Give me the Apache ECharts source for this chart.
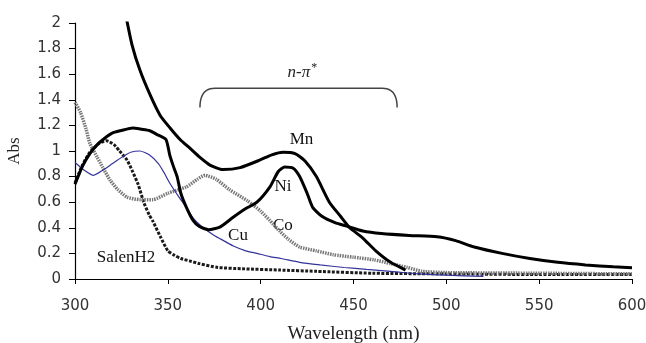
<!DOCTYPE html>
<html lang="en">
  <head>
    <meta charset="UTF-8" />
    <title>UV-vis spectra</title>
    <script src="https://cdn.jsdelivr.net/npm/echarts@6/dist/echarts.min.js"></script>
  </head>
  <body style="margin: 0; background: #fff">
    <div id="main" style="width: 646px; height: 343px"></div>
    <script type="text/javascript">
      // x axis ticks (nm) and y axis ticks (Abs)
      const xTicks = [300, 350, 400, 450, 500, 550, 600];
      const yTicks = [0, 0.2, 0.4, 0.6, 0.8, 1, 1.2, 1.4, 1.6, 1.8, 2];

      // spectra, [wavelength, abs]
      const mnData = [
        [327.5, 2.05], [330.7, 1.83], [335, 1.63], [340.4, 1.44], [345.8, 1.28],
        [351.2, 1.18], [356.6, 1.09], [362, 1.02], [367.3, 0.95], [372.7, 0.89],
        [379.7, 0.855], [388.9, 0.87], [399.7, 0.93], [406, 0.97], [412, 0.99],
        [418.5, 0.98], [424, 0.92], [430, 0.8], [437, 0.6], [443, 0.49],
        [448, 0.4], [455, 0.32], [462, 0.22], [470, 0.13], [478, 0.07]
      ];
      const niData = [
        [300, 0.74], [304, 0.88], [308, 0.98], [312, 1.05], [316, 1.1], [320, 1.14],
        [325, 1.16], [331, 1.18], [336, 1.17], [340, 1.16], [344, 1.13], [349, 1.09],
        [351, 0.97], [353, 0.88], [355, 0.8], [357, 0.67], [360, 0.56], [363.5, 0.46],
        [367, 0.41], [372, 0.385], [378, 0.405], [385, 0.48], [392, 0.55], [398, 0.6],
        [405, 0.72], [409.5, 0.84], [413, 0.875], [417.5, 0.865], [421, 0.8], [425, 0.67],
        [428, 0.56], [433, 0.49], [440, 0.44], [447, 0.41], [455, 0.375], [465, 0.355],
        [480, 0.34], [495, 0.33], [505, 0.3], [515, 0.25], [530, 0.2], [545, 0.16],
        [560, 0.13], [575, 0.11], [590, 0.095], [600, 0.088]
      ];
      const cuData = [
        [300, 0.91], [305, 0.85], [310, 0.81], [315, 0.85], [320, 0.9], [325, 0.95],
        [330, 0.99], [335, 1.0], [340, 0.97], [345, 0.9], [348, 0.83], [351, 0.75],
        [356, 0.64], [360, 0.56], [364, 0.47], [370, 0.39], [375, 0.34], [380, 0.3],
        [385, 0.26], [392, 0.22], [398, 0.2], [405, 0.175], [411, 0.16], [421, 0.13],
        [432, 0.11], [445, 0.09], [457, 0.075], [470, 0.06], [485, 0.04], [500, 0.03],
        [520, 0.02]
      ];
      const coData = [
        [300, 1.38], [303, 1.3], [306, 1.17], [308, 1.06], [312, 0.95], [315, 0.87],
        [319, 0.77], [323, 0.7], [328, 0.64], [335, 0.62], [342, 0.62], [350, 0.67],
        [360, 0.72], [366, 0.78], [370, 0.81], [376, 0.78], [383, 0.7], [393, 0.61],
        [400, 0.53], [406.7, 0.43], [410.5, 0.37], [415, 0.31], [421, 0.25], [430, 0.22],
        [439, 0.19], [450, 0.17], [461, 0.15], [470, 0.12], [479, 0.09], [487, 0.06],
        [500, 0.05], [550, 0.045], [600, 0.04]
      ];
      const salenData = [
        [300, 0.75], [304, 0.89], [308, 0.99], [313, 1.06], [317, 1.08], [321, 1.05],
        [324, 1.0], [328, 0.93], [331, 0.84], [334, 0.74], [337, 0.6], [340, 0.5],
        [342, 0.45], [346, 0.33], [350, 0.22], [353, 0.19], [357, 0.16], [362, 0.14],
        [367, 0.12], [377, 0.09], [390, 0.08], [410, 0.07], [430, 0.06], [460, 0.045],
        [500, 0.04], [550, 0.035], [600, 0.035]
      ];

      // curve labels in data coordinates
      const curveLabels = [
        { text: "Mn", x: 422, y: 1.086 },
        { text: "Ni", x: 412, y: 0.72 },
        { text: "Cu", x: 387.8, y: 0.34 },
        { text: "Co", x: 412, y: 0.42 },
        { text: "SalenH2", x: 327.5, y: 0.17 }
      ];
      // bracket over the n-pi* band
      const bracket = { x0: 367.3, x1: 473.5, yEnd: 1.34, yTop: 1.49, r: 8 };
      const bracketLabel = { x: 422.5, y: 1.61 };

      const serif = '"Liberation Serif", "DejaVu Serif", serif';
      const sans = '"DejaVu Sans", sans-serif';

      function lineSeries(name, data, color, width, type, z) {
        return {
          name: name,
          type: "line",
          data: data,
          showSymbol: false,
          smooth: 0.2,
          z: z,
          lineStyle: { color: color, width: width, type: type, cap: "butt" },
        };
      }

      let option = {
        animation: false,
        backgroundColor: "#fff",
        grid: { left: 75, right: 14, top: 23, bottom: 64, outerBoundsMode: "none", containLabel: false },
        xAxis: {
          type: "value",
          min: xTicks[0],
          max: xTicks[xTicks.length - 1],
          interval: 50,
          name: "Wavelength (nm)",
          nameLocation: "middle",
          nameGap: 46,
          nameTextStyle: { fontFamily: serif, fontSize: 19, color: "#222" },
          axisLine: { lineStyle: { color: "#000", width: 1.2 } },
          axisTick: { length: 5, lineStyle: { color: "#000" } },
          axisLabel: { margin: 20, fontFamily: sans, fontSize: 15, color: "#333" },
          splitLine: { show: false },
        },
        yAxis: {
          type: "value",
          min: yTicks[0],
          max: yTicks[yTicks.length - 1],
          interval: 0.2,
          name: "Abs",
          nameLocation: "middle",
          nameRotate: 90,
          nameGap: 52,
          nameTextStyle: { fontFamily: serif, fontSize: 17, color: "#222" },
          axisLine: { show: true, lineStyle: { color: "#000", width: 1.2 } },
          axisTick: { show: true, length: 6, lineStyle: { color: "#000" } },
          axisLabel: { margin: 14, fontFamily: sans, fontSize: 15, color: "#333" },
          splitLine: { show: false },
        },
        series: [
          lineSeries("SalenH2", salenData, "#1a1a1a", 3, [3, 1.5], 2),
          lineSeries("Co", coData, "#777", 3.5, [1.5, 1], 3),
          lineSeries("Cu", cuData, "#33339a", 1.2, "solid", 4),
          lineSeries("Ni", niData, "#000", 3, "solid", 5),
          lineSeries("Mn", mnData, "#000", 3, "solid", 6),
        ],
      };

      let myChart = echarts.init(document.getElementById("main"));
      myChart.setOption(option);

      // annotations placed through the chart's own scales
      const px = (x, y) => myChart.convertToPixel({ gridIndex: 0 }, [x, y]);
      const left = px(bracket.x0, bracket.yEnd);
      const right = px(bracket.x1, bracket.yEnd);
      const topY = px(bracket.x0, bracket.yTop)[1];
      const r = px(bracket.x0 + bracket.r, 0)[0] - left[0];

      // rounded corners as quadratic curves sampled into a polyline
      function quad(p0, c, p1, n) {
        const pts = [];
        for (let i = 0; i <= n; i++) {
          const t = i / n;
          pts.push([
            (1 - t) * (1 - t) * p0[0] + 2 * (1 - t) * t * c[0] + t * t * p1[0],
            (1 - t) * (1 - t) * p0[1] + 2 * (1 - t) * t * c[1] + t * t * p1[1],
          ]);
        }
        return pts;
      }
      const bracePts = quad(left, [left[0], topY], [left[0] + r, topY], 12).concat(
        quad([right[0] - r, topY], [right[0], topY], right, 12)
      );

      const graphics = [
        {
          type: "polyline",
          shape: { points: bracePts },
          style: { stroke: "#444", lineWidth: 1.5, fill: null },
        },
      ];
      const lp = px(bracketLabel.x, bracketLabel.y);
      graphics.push({
        type: "text",
        x: lp[0],
        y: lp[1],
        style: {
          text: "{a|n-π}{b|*}",
          align: "center",
          verticalAlign: "middle",
          rich: {
            a: { fontFamily: serif, fontStyle: "italic", fontSize: 17, fill: "#222" },
            b: { fontFamily: serif, fontSize: 12, fill: "#222", padding: [0, 0, 11, 1] },
          },
        },
      });
      curveLabels.forEach((l) => {
        const p = px(l.x, l.y);
        graphics.push({
          type: "text",
          x: p[0],
          y: p[1],
          style: {
            text: l.text,
            font: "17px " + serif,
            fill: "#111",
            align: "center",
            verticalAlign: "middle",
          },
        });
      });
      myChart.setOption({ graphic: graphics });
    </script>
  </body>
</html>
